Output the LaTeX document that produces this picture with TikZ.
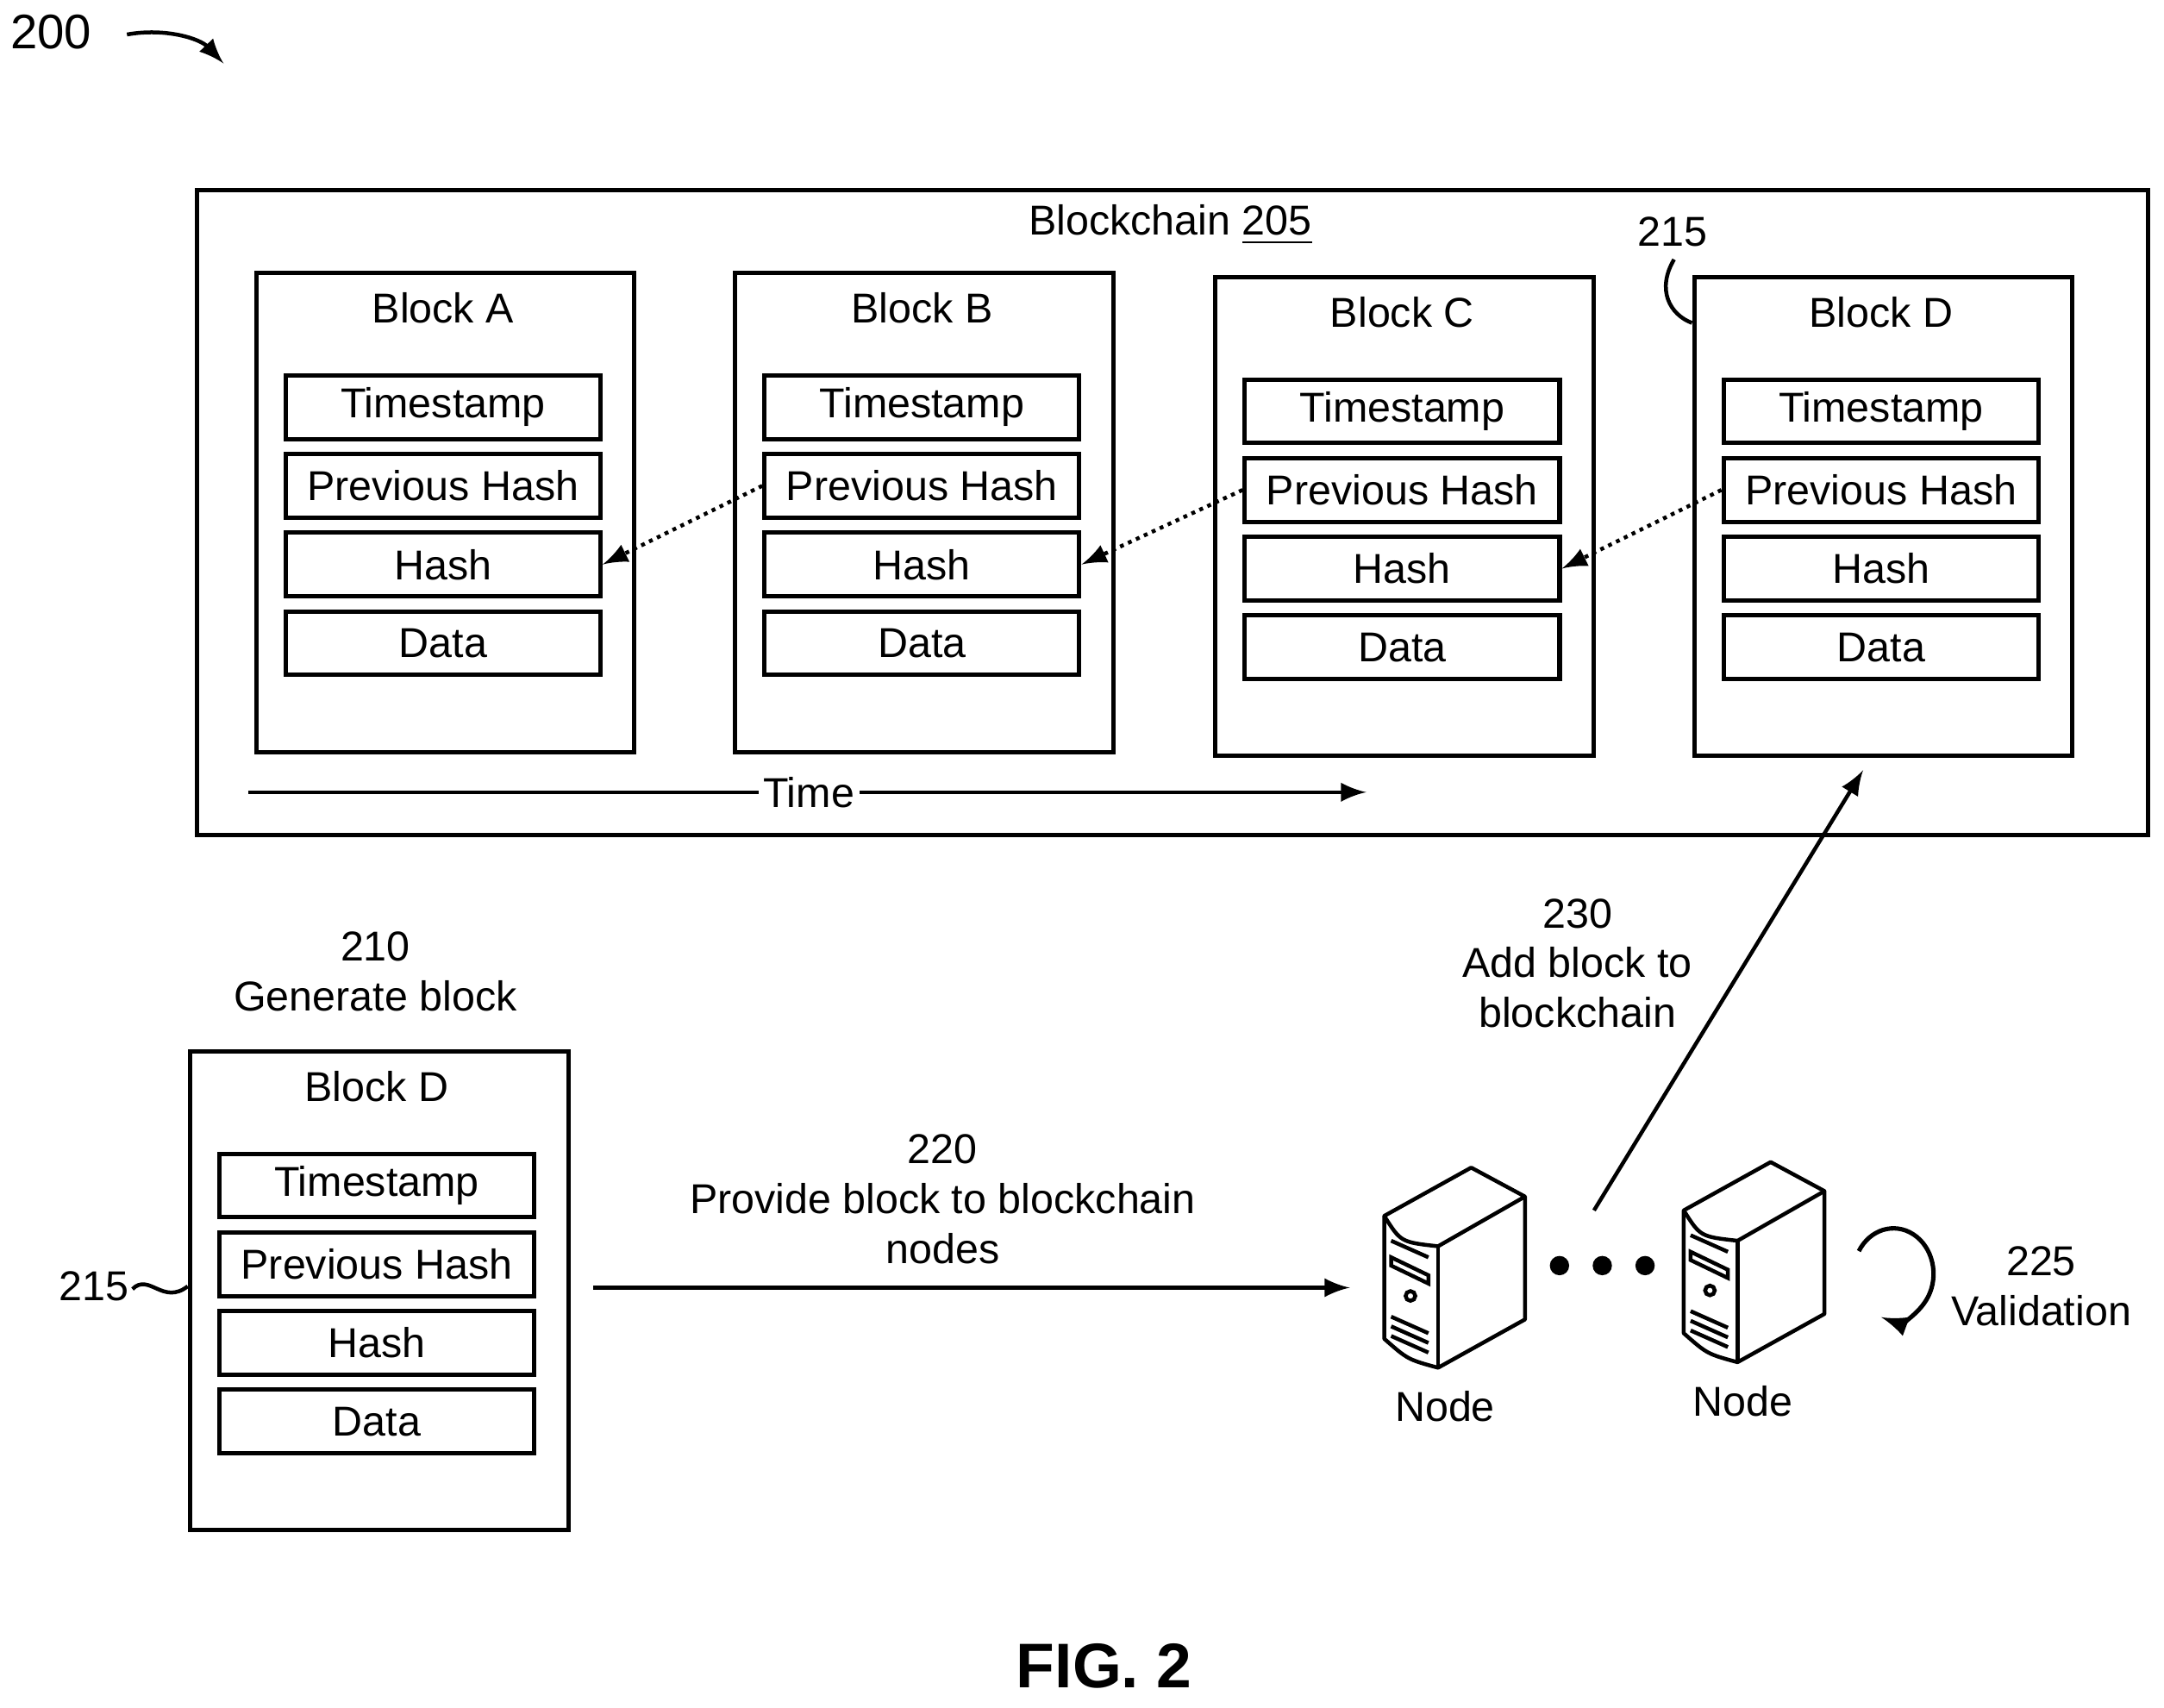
\documentclass[tikz,border=0pt]{standalone}
\usepackage{fontspec}
\setmainfont{Liberation Sans}
\usetikzlibrary{positioning}
\tikzset{>=latex}

\begin{document}
\begin{tikzpicture}[x=0.01cm, y=-0.01cm, font=\fontsize{8.6}{10.3}\selectfont]
	\tikzstyle{blk} = [draw=black, line width=0.9pt, minimum width=2.74cm, minimum height=3.47cm, anchor=north west, inner sep=0pt]
	\tikzstyle{row} = [draw=black, line width=0.9pt, minimum width=2.28cm, minimum height=0.46cm, inner sep=0pt]
	\tikzstyle{link} = [->, densely dotted, line width=0.8pt]
	\tikzstyle{flow} = [->, line width=0.8pt]
	\tikzset{
		server/.pic={
			\draw[line width=0.8pt, fill=white, line join=round] (3,36) -- (66,1) -- (105,22) -- (105,111) -- (42,146) .. controls (20,140) .. (3,125) -- cycle;
			\draw[line width=0.8pt] (3,36) .. controls (15,55) .. (42,58) -- (105,22);
			\draw[line width=0.8pt] (42,58) -- (42,146);
			\draw[line width=0.8pt] (8,54) -- (35,66);
			\draw[line width=0.8pt] (8,66) -- (35,79) -- (35,85) -- (8,72) -- cycle;
			\draw[line width=0.8pt] (22,94) circle (3.5);
			\foreach \yy in {109,116,123} \draw[line width=0.8pt] (8,\yy) -- (35,\yy+12);
		}
	}
	\useasboundingbox (0,0) rectangle (1568,1237);

%----------header------------------------------
	\node (fig) at (37,23) {\fontsize{10}{12}\selectfont 200};
	\coordinate (figA) at (92,25);
	\coordinate (figB) at (162,46);
	\draw[->, line width=0.8pt] (figA) .. controls (120,20) and (145,28) .. (figB);

	\node[draw=black, line width=0.9pt, minimum width=14.13cm, minimum height=4.67cm, anchor=north west] (chain) at (141,136) {};
	\node (chaintitle) at (848,163) {Blockchain \underline{205}};

%----------blocks in the chain------------------------------
	\foreach \name/\bx/\by in {A/184/196, B/531/196, C/879/199, D/1226/199}{
		\node[blk] (blk\name) at (\bx,\by) {};
		\node (title\name) at (\bx+137,\by+27) {Block \name};
		\node[row] (ts\name) at (\bx+137,\by+99) {Timestamp};
		\node[row] (ph\name) at (\bx+137,\by+156) {Previous Hash};
		\node[row] (h\name) at (\bx+137,\by+213) {Hash};
		\node[row] (d\name) at (\bx+137,\by+270) {Data};
	}

	\draw[link] (phB.west) -- (hA.east);
	\draw[link] (phC.west) -- (hB.east);
	\draw[link] (phD.west) -- (hC.east);

	\coordinate (t0) at (180,574);
	\coordinate (t1) at (990,574);
	\draw[flow] (t0) -- (t1);
	\node[fill=white, inner sep=1pt] (time) at (586,574) {Time};

	\node (ref215a) at (1212,168) {215};
	\coordinate (tick215a) at (1213,188);
	\coordinate (hit215a) at (1226,234);
	\draw[line width=0.8pt] (tick215a) .. controls (1200,210) and (1210,228) .. (hit215a);

%----------new block------------------------------
	\node[align=center] (gen) at (272,704) {210\\Generate block};
	\node[blk] (blkN) at (136,760) {};
	\node (titleN) at (273,787) {Block D};
	\node[row] (tsN) at (273,859) {Timestamp};
	\node[row] (phN) at (273,916) {Previous Hash};
	\node[row] (hN) at (273,973) {Hash};
	\node[row] (dN) at (273,1030) {Data};

	\node (ref215b) at (68,932) {215};
	\coordinate (tick215b) at (96,934);
	\draw[line width=0.8pt] (tick215b) .. controls (108,922) and (118,946) .. (blkN.west |- 0,932);

%----------nodes------------------------------
	\coordinate (sendA) at (430,933);
	\coordinate (sendB) at (978,933);
	\draw[flow] (sendA) -- (sendB);
	\node[align=center] (provide) at (683,869) {220\\Provide block to blockchain\\nodes};

	\pic at (1000,845) {server};
	\pic at (1217,841) {server};
	\node (node1) at (1047,1019) {Node};
	\node (node2) at (1263,1015) {Node};
	\foreach \dx in {1130,1161,1192} \fill (\dx,917) circle (7);

	\coordinate (addA) at (1155,877);
	\coordinate (addB) at (1350,558);
	\draw[flow] (addA) -- (addB);
	\node[align=center] (add) at (1143,698) {230\\Add block to\\blockchain};

	\draw[->, line width=0.9pt] (1372,923) ++(-150:29 and 33) arc[start angle=-150, end angle=108, x radius=29, y radius=33];
	\node[align=center] (valid) at (1479,932) {225\\Validation};

	\node (caption) at (800,1207) {\fontsize{13}{15}\selectfont\bfseries FIG. 2};
\end{tikzpicture}
\end{document}
